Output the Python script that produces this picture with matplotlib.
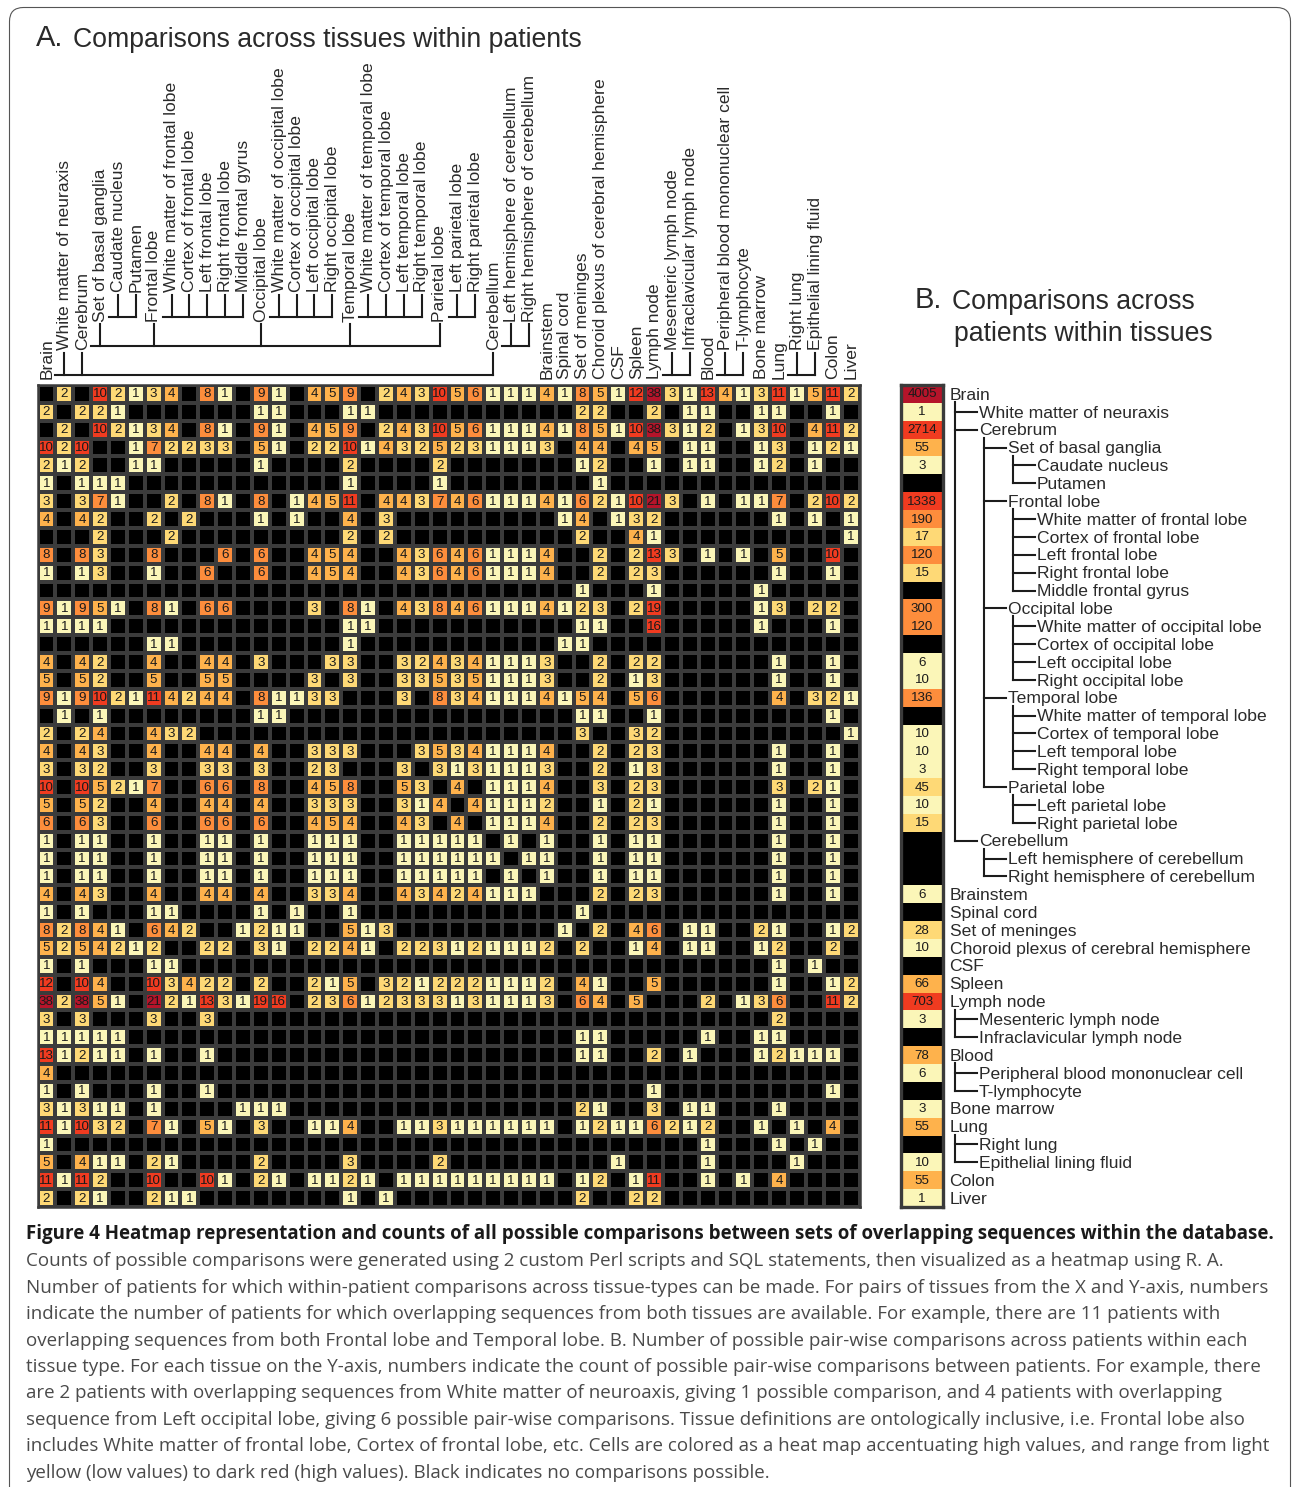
import matplotlib
matplotlib.use("Agg")
import matplotlib.pyplot as plt
from matplotlib.colors import ListedColormap, BoundaryNorm
from matplotlib.patches import FancyBboxPatch
import numpy as np

W, H = 1292, 1487

tissues = ["Brain", "White matter of neuraxis", "Cerebrum", "Set of basal ganglia", "Caudate nucleus", "Putamen",
           "Frontal lobe", "White matter of frontal lobe", "Cortex of frontal lobe", "Left frontal lobe",
           "Right frontal lobe", "Middle frontal gyrus", "Occipital lobe", "White matter of occipital lobe",
           "Cortex of occipital lobe", "Left occipital lobe", "Right occipital lobe", "Temporal lobe",
           "White matter of temporal lobe", "Cortex of temporal lobe", "Left temporal lobe", "Right temporal lobe",
           "Parietal lobe", "Left parietal lobe", "Right parietal lobe", "Cerebellum", "Left hemisphere of cerebellum",
           "Right hemisphere of cerebellum", "Brainstem", "Spinal cord", "Set of meninges",
           "Choroid plexus of cerebral hemisphere", "CSF", "Spleen", "Lymph node", "Mesenteric lymph node",
           "Infraclavicular lymph node", "Blood", "Peripheral blood mononuclear cell", "T-lymphocyte", "Bone marrow",
           "Lung", "Right lung", "Epithelial lining fluid", "Colon", "Liver"]

# ontology parent of each tissue (-1 = top level)
parents = [-1, 0, 0, 2, 3, 3, 2, 6, 6, 6, 6, 6, 2, 12, 12, 12, 12, 2, 17, 17, 17, 17, 2, 22, 22, 0, 25, 25,
           -1, -1, -1, -1, -1, -1, -1, 34, 34, -1, 37, 37, -1, -1, 41, 41, -1, -1]

# Panel A: patients with comparisons, {column: count} per row
within_patient_rows = [
    {1:2,3:10,4:2,5:1,6:3,7:4,9:8,10:1,12:9,13:1,15:4,16:5,17:9,19:2,20:4,21:3,22:10,23:5,24:6,25:1,26:1,27:1,28:4,29:1,30:8,31:5,32:1,33:12,34:38,35:3,36:1,37:13,38:4,39:1,40:3,41:11,42:1,43:5,44:11,45:2},
    {0:2,2:2,3:2,4:1,12:1,13:1,17:1,18:1,30:2,31:2,34:2,36:1,37:1,40:1,41:1,44:1},
    {1:2,3:10,4:2,5:1,6:3,7:4,9:8,10:1,12:9,13:1,15:4,16:5,17:9,19:2,20:4,21:3,22:10,23:5,24:6,25:1,26:1,27:1,28:4,29:1,30:8,31:5,32:1,33:10,34:38,35:3,36:1,37:2,39:1,40:3,41:10,43:4,44:11,45:2},
    {0:10,1:2,2:10,5:1,6:7,7:2,8:2,9:3,10:3,12:5,13:1,15:2,16:2,17:10,18:1,19:4,20:3,21:2,22:5,23:2,24:3,25:1,26:1,27:1,28:3,30:4,31:4,33:4,34:5,36:1,37:1,40:1,41:3,43:1,44:2,45:1},
    {0:2,1:1,2:2,5:1,6:1,12:1,17:2,22:2,30:1,31:2,34:1,36:1,37:1,40:1,41:2,43:1},
    {0:1,2:1,3:1,4:1,17:1,22:1,31:1},
    {0:3,2:3,3:7,4:1,7:2,9:8,10:1,12:8,14:1,15:4,16:5,17:11,19:4,20:4,21:3,22:7,23:4,24:6,25:1,26:1,27:1,28:4,29:1,30:6,31:2,32:1,33:10,34:21,35:3,37:1,39:1,40:1,41:7,43:2,44:10,45:2},
    {0:4,2:4,3:2,6:2,8:2,12:1,14:1,17:4,19:3,29:1,30:4,32:1,33:3,34:2,41:1,43:1,45:1},
    {3:2,7:2,17:2,19:2,30:2,33:4,34:1,45:1},
    {0:8,2:8,3:3,6:8,10:6,12:6,15:4,16:5,17:4,20:4,21:3,22:6,23:4,24:6,25:1,26:1,27:1,28:4,31:2,33:2,34:13,35:3,37:1,39:1,41:5,44:10},
    {0:1,2:1,3:3,6:1,9:6,12:6,15:4,16:5,17:4,20:4,21:3,22:6,23:4,24:6,25:1,26:1,27:1,28:4,31:2,33:2,34:3,41:1,44:1},
    {30:1,34:1,40:1},
    {0:9,1:1,2:9,3:5,4:1,6:8,7:1,9:6,10:6,15:3,17:8,18:1,20:4,21:3,22:8,23:4,24:6,25:1,26:1,27:1,28:4,29:1,30:2,31:3,33:2,34:19,40:1,41:3,43:2,44:2},
    {0:1,1:1,2:1,3:1,17:1,18:1,30:1,31:1,34:16,40:1,44:1},
    {6:1,7:1,17:1,29:1,30:1},
    {0:4,2:4,3:2,6:4,9:4,10:4,12:3,16:3,17:3,20:3,21:2,22:4,23:3,24:4,25:1,26:1,27:1,28:3,31:2,33:2,34:2,41:1,44:1},
    {0:5,2:5,3:2,6:5,9:5,10:5,15:3,17:3,20:3,21:3,22:5,23:3,24:5,25:1,26:1,27:1,28:3,31:2,33:1,34:3,41:1,44:1},
    {0:9,1:1,2:9,3:10,4:2,5:1,6:11,7:4,8:2,9:4,10:4,12:8,13:1,14:1,15:3,16:3,20:3,22:8,23:3,24:4,25:1,26:1,27:1,28:4,29:1,30:5,31:4,33:5,34:6,41:4,43:3,44:2,45:1},
    {1:1,3:1,12:1,13:1,30:1,31:1,34:1,44:1},
    {0:2,2:2,3:4,6:4,7:3,8:2,30:3,33:3,34:2,45:1},
    {0:4,2:4,3:3,6:4,9:4,10:4,12:4,15:3,16:3,17:3,21:3,22:5,23:3,24:4,25:1,26:1,27:1,28:4,31:2,33:2,34:3,41:1,44:1},
    {0:3,2:3,3:2,6:3,9:3,10:3,12:3,15:2,16:3,20:3,22:3,23:1,24:3,25:1,26:1,27:1,28:3,31:2,33:1,34:3,41:1,44:1},
    {0:10,2:10,3:5,4:2,5:1,6:7,9:6,10:6,12:8,15:4,16:5,17:8,20:5,21:3,23:4,25:1,26:1,27:1,28:4,31:3,33:2,34:3,41:3,43:2,44:1},
    {0:5,2:5,3:2,6:4,9:4,10:4,12:4,15:3,16:3,17:3,20:3,21:1,22:4,24:4,25:1,26:1,27:1,28:2,31:1,33:2,34:1,41:1,44:1},
    {0:6,2:6,3:3,6:6,9:6,10:6,12:6,15:4,16:5,17:4,20:4,21:3,23:4,25:1,26:1,27:1,28:4,31:2,33:2,34:3,41:1,44:1},
    {0:1,2:1,3:1,6:1,9:1,10:1,12:1,15:1,16:1,17:1,20:1,21:1,22:1,23:1,24:1,26:1,28:1,31:1,33:1,34:1,41:1,44:1},
    {0:1,2:1,3:1,6:1,9:1,10:1,12:1,15:1,16:1,17:1,20:1,21:1,22:1,23:1,24:1,25:1,27:1,28:1,31:1,33:1,34:1,41:1,44:1},
    {0:1,2:1,3:1,6:1,9:1,10:1,12:1,15:1,16:1,17:1,20:1,21:1,22:1,23:1,24:1,26:1,28:1,31:1,33:1,34:1,41:1,44:1},
    {0:4,2:4,3:3,6:4,9:4,10:4,12:4,15:3,16:3,17:4,20:4,21:3,22:4,23:2,24:4,25:1,26:1,27:1,31:2,33:2,34:3,41:1,44:1},
    {0:1,2:1,6:1,7:1,12:1,14:1,17:1,30:1},
    {0:8,1:2,2:8,3:4,4:1,6:6,7:4,8:2,11:1,12:2,13:1,14:1,17:5,18:1,19:3,29:1,31:2,33:4,34:6,36:1,37:1,40:2,41:1,44:1,45:2},
    {0:5,1:2,2:5,3:4,4:2,5:1,6:2,9:2,10:2,12:3,13:1,15:2,16:2,17:4,18:1,20:2,21:2,22:3,23:1,24:2,25:1,26:1,27:1,28:2,30:2,33:1,34:4,36:1,37:1,40:1,41:2,44:2},
    {0:1,2:1,6:1,7:1,41:1,43:1},
    {0:12,2:10,3:4,6:10,7:3,8:4,9:2,10:2,12:2,15:2,16:1,17:5,19:3,20:2,21:1,22:2,23:2,24:2,25:1,26:1,27:1,28:2,30:4,31:1,34:5,41:1,44:1,45:2},
    {0:38,1:2,2:38,3:5,4:1,6:21,7:2,8:1,9:13,10:3,11:1,12:19,13:16,15:2,16:3,17:6,18:1,19:2,20:3,21:3,22:3,23:1,24:3,25:1,26:1,27:1,28:3,30:6,31:4,33:5,37:2,39:1,40:3,41:6,44:11,45:2},
    {0:3,2:3,6:3,9:3,41:2},
    {0:1,1:1,2:1,3:1,4:1,30:1,31:1,37:1,40:1,41:1},
    {0:13,1:1,2:2,3:1,4:1,6:1,9:1,30:1,31:1,34:2,36:1,40:1,41:2,42:1,43:1,44:1},
    {0:4},
    {0:1,2:1,6:1,9:1,34:1,44:1},
    {0:3,1:1,2:3,3:1,4:1,6:1,11:1,12:1,13:1,30:2,31:1,34:3,36:1,37:1,41:1},
    {0:11,1:1,2:10,3:3,4:2,6:7,7:1,9:5,10:1,12:3,15:1,16:1,17:4,20:1,21:1,22:3,23:1,24:1,25:1,26:1,27:1,28:1,30:1,31:2,32:1,33:1,34:6,35:2,36:1,37:2,40:1,42:1,44:4},
    {0:1,37:1,41:1,43:1},
    {0:5,2:4,3:1,4:1,6:2,7:1,12:2,17:3,22:2,32:1,37:1,42:1},
    {0:11,1:1,2:11,3:2,6:10,9:10,10:1,12:2,13:1,15:1,16:1,17:2,18:1,20:1,21:1,22:1,23:1,24:1,25:1,26:1,27:1,28:1,30:1,31:2,33:1,34:11,37:1,39:1,41:4},
    {0:2,2:2,3:1,6:2,7:1,8:1,17:1,19:1,30:2,33:2,34:2},
]

# Panel B: pair-wise comparisons across patients (0 = none possible)
across_patient_counts = [4005, 1, 2714, 55, 3, 0, 1338, 190, 17, 120, 15, 0, 300, 120, 0, 6, 10, 136, 0, 10, 10, 3,
                         45, 10, 15, 0, 0, 0, 6, 0, 28, 10, 0, 66, 703, 3, 0, 78, 6, 0, 3, 55, 0, 10, 55, 1]

class_colors = ["#000000", "#FBF6B8", "#FED976", "#FEB24C", "#FD8D3C", "#F03B20", "#B5142A"]
cmap = ListedColormap(class_colors)
norm_a = BoundaryNorm([0, 1, 2, 4, 6, 10, 20, 100], cmap.N)
norm_b = BoundaryNorm([0, 1, 15, 50, 100, 700, 3000, 10000], cmap.N)

caption_title = "Figure 4 Heatmap representation and counts of all possible comparisons between sets of overlapping sequences within the database."
caption_lines = [
    "Counts of possible comparisons were generated using 2 custom Perl scripts and SQL statements, then visualized as a heatmap using R. A.",
    "Number of patients for which within-patient comparisons across tissue-types can be made. For pairs of tissues from the X and Y-axis, numbers",
    "indicate the number of patients for which overlapping sequences from both tissues are available. For example, there are 11 patients with",
    "overlapping sequences from both Frontal lobe and Temporal lobe. B. Number of possible pair-wise comparisons across patients within each",
    "tissue type. For each tissue on the Y-axis, numbers indicate the count of possible pair-wise comparisons between patients. For example, there",
    "are 2 patients with overlapping sequences from White matter of neuroaxis, giving 1 possible comparison, and 4 patients with overlapping",
    "sequence from Left occipital lobe, giving 6 possible pair-wise comparisons. Tissue definitions are ontologically inclusive, i.e. Frontal lobe also",
    "includes White matter of frontal lobe, Cortex of frontal lobe, etc. Cells are colored as a heat map accentuating high values, and range from light",
    "yellow (low values) to dark red (high values). Black indicates no comparisons possible.",
]

plt.rcParams["font.family"] = ["Liberation Sans", "DejaVu Sans"]
GRID = "#3b3b3b"
INK = "#1c1c1c"
TEXT = "#2a2a2a"

n = len(tissues)
within = np.zeros((n, n))
for r, row in enumerate(within_patient_rows):
    for c, v in row.items():
        within[r, c] = v
across = np.array(across_patient_counts, dtype=float).reshape(-1, 1)

depth = []
for p in parents:
    depth.append(0 if p < 0 else depth[p] + 1)

fig = plt.figure(figsize=(W / 100, H / 100), dpi=100, facecolor="white")

# overlay in pixel coordinates for text and tree connectors
ov = fig.add_axes([0, 0, 1, 1], zorder=0)
ov.set_xlim(0, W)
ov.set_ylim(H, 0)
ov.axis("off")

def pixel_axes(x0, y0, x1, y1):
    return fig.add_axes([x0 / W, 1 - y1 / H, (x1 - x0) / W, (y1 - y0) / H], zorder=2)

# page outline
ov.add_patch(FancyBboxPatch((9.5, 7.5), W - 11, H + 40, boxstyle="round,pad=0,rounding_size=14",
                            fc="white", ec="#555555", lw=0.8, zorder=0))
ov.set_xlim(0, W)
ov.set_ylim(H, 0)

# Panel A heatmap
AX0, AY0, AX1, AY1 = 37.5, 385, 859.5, 1207
axa = pixel_axes(AX0, AY0, AX1, AY1)
axa.pcolormesh(np.arange(n + 1), np.arange(n + 1), within, cmap=cmap, norm=norm_a,
               edgecolors=GRID, linewidth=1.45)
axa.set_xlim(0, n)
axa.set_ylim(n, 0)
axa.set_xticks([])
axa.set_yticks([])
for s in axa.spines.values():
    s.set_color(GRID)
    s.set_linewidth(1.8)
for r in range(n):
    for c in range(n):
        if within[r, c] > 0:
            axa.text(c + 0.5, r + 0.53, f"{int(within[r, c])}", ha="center", va="center",
                     fontsize=9.6, color="#1a1a1a")

# Panel B heatmap
BX0, BX1 = 901.5, 942.5
axb = pixel_axes(BX0, AY0, BX1, AY1)
axb.pcolormesh([0, 1], np.arange(n + 1), across, cmap=cmap, norm=norm_b)
axb.set_xlim(0, 1)
axb.set_ylim(n, 0)
axb.set_xticks([])
axb.set_yticks([])
for s in axb.spines.values():
    s.set_color(GRID)
    s.set_linewidth(2.4)
for r in range(n):
    if across[r, 0] > 0:
        axb.text(0.5, r + 0.53, f"{int(across[r, 0])}", ha="center", va="center", fontsize=9.6, color="#1a1a1a")

cell = (AX1 - AX0) / n
cx = lambda i: AX0 + cell * (i + 0.5)
cy = lambda i: AY0 + cell * (i + 0.5)
LFS = 12.6
LW = 1.5

# Top labels and connectors
label_bottom = [379, 349.5, 321.5, 291.5]
tick_top = [None, 353, 324, 295]
bracket_y = [None, 375, 346, 317]
for i, name in enumerate(tissues):
    ov.text(cx(i) + 0.3, label_bottom[depth[i]], name, rotation=90, ha="center", va="bottom",
            fontsize=LFS, color=TEXT, rotation_mode="default")
for p in range(n):
    kids = [i for i in range(n) if parents[i] == p]
    if not kids:
        continue
    d = depth[kids[0]]
    by = bracket_y[d]
    ov.plot([cx(p) + 9, cx(kids[-1])], [by, by], color=INK, lw=LW, solid_capstyle="projecting")
    for k in kids:
        ov.plot([cx(k), cx(k)], [tick_top[d], by], color=INK, lw=LW)

# Right labels and connectors
label_x = [949.5, 979, 1008, 1037]
for i, name in enumerate(tissues):
    ov.text(label_x[depth[i]], cy(i) + 1.2, name, ha="left", va="center", fontsize=LFS, color=TEXT)
for p in range(n):
    kids = [i for i in range(n) if parents[i] == p]
    if not kids:
        continue
    x1 = label_x[depth[kids[0]]] - 2.5
    tx = label_x[depth[kids[0]]] - 24.5
    ov.plot([tx, tx], [cy(p) + 8, cy(kids[-1])], color=INK, lw=LW, solid_capstyle="projecting")
    for k in kids:
        ov.plot([tx, x1], [cy(k), cy(k)], color=INK, lw=LW)

# Titles
ov.text(36, 38.5, "A.", fontsize=21, color=TEXT, ha="left", va="center")
ov.text(73, 40, "Comparisons across tissues within patients", fontsize=19.2, color=TEXT, ha="left", va="center")
ov.text(915, 300, "B.", fontsize=21, color=TEXT, ha="left", va="center")
ov.text(952, 302, "Comparisons across", fontsize=19.2, color=TEXT, ha="left", va="center")
ov.text(954, 334, "patients within tissues", fontsize=19.2, color=TEXT, ha="left", va="center")

# Caption
ov.text(26, 1234, caption_title, family=["Open Sans", "DejaVu Sans"], fontweight="bold", fontsize=13.5,
        color="#1a1a1a", ha="left", va="center")
for k, line in enumerate(caption_lines):
    ov.text(26, 1261.5 + k * 26.4, line, family=["Open Sans", "DejaVu Sans"], fontsize=13.5, color="#4a4a4a",
            ha="left", va="center")

fig.savefig("out.png", dpi=100, facecolor="white")
